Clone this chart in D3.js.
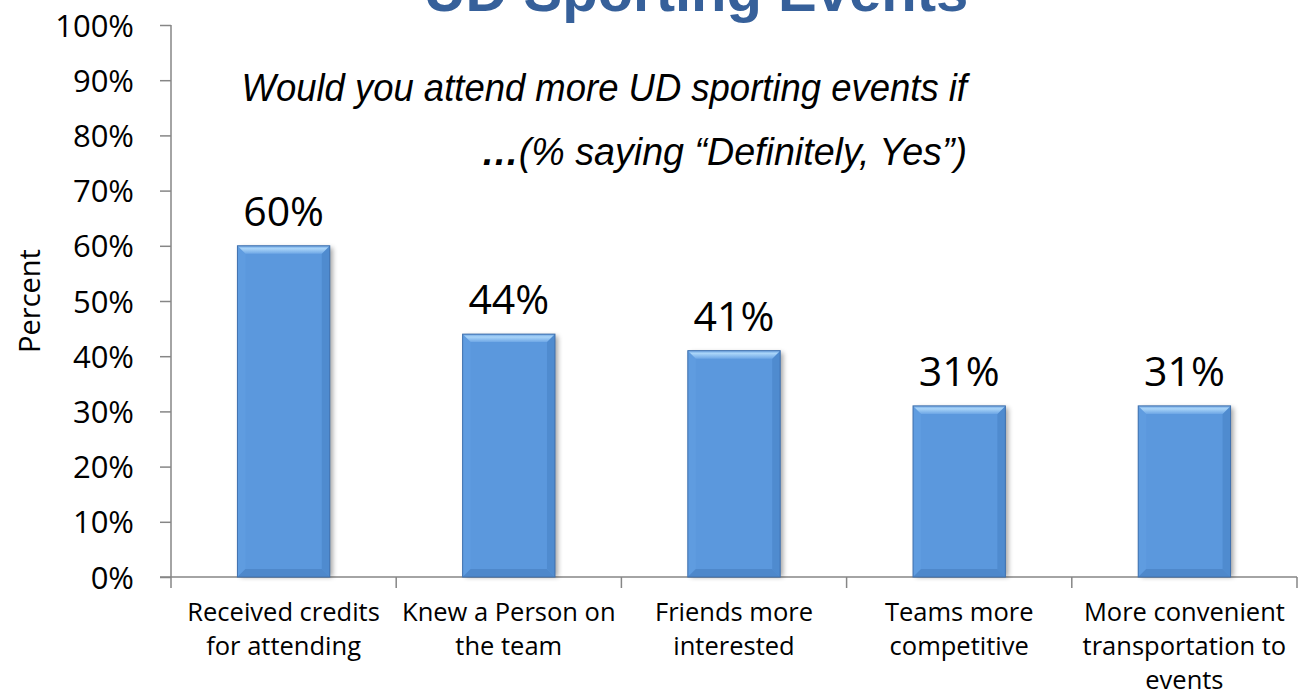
<!DOCTYPE html>
<html>
<head>
<meta charset="utf-8">
<script src="https://cdnjs.cloudflare.com/ajax/libs/d3/7.8.5/d3.min.js"></script>
<style>
  body { margin: 0; background: #fff; }
  svg { display: block; }
</style>
</head>
<body>
<svg id="chart" width="1303" height="696"></svg>
<script>
// Chart data
const categories = [
    ["Received credits", "for attending"],
    ["Knew a Person on", "the team"],
    ["Friends more", "interested"],
    ["Teams more", "competitive"],
    ["More convenient", "transportation to", "events"]
];
const values = [60, 44, 41, 31, 31];
const yTicks = [0, 10, 20, 30, 40, 50, 60, 70, 80, 90, 100];
const titleText = "UD Sporting Events";
const subtitleLine1 = "Would you attend more UD sporting events if";
const subtitleLine2 = "(% saying \u201CDefinitely, Yes\u201D)";
const yLabel = "Percent";

const svg = d3.select("#chart");
const plotLeft = 171, plotRight = 1297, plotTop = 25, plotBottom = 577;
const labelFont = "'Open Sans', 'Noto Sans', sans-serif";
const subFont = "'Liberation Sans', Arial, sans-serif";

// scales
let x = d3.scaleBand()
    .domain(d3.range(values.length))
    .range([plotLeft, plotRight])
    .paddingInner(0.59)
    .paddingOuter(0.295);

let y = d3.scaleLinear().domain([0, 100]).range([plotBottom, plotTop]);

// gradients and shadow
let defs = svg.append("defs");
let topGrad = defs.append("linearGradient").attr("id", "topBevel")
    .attr("x1", 0).attr("y1", 0).attr("x2", 0).attr("y2", 1);
topGrad.append("stop").attr("offset", "0%").attr("stop-color", "#6FA6E3");
topGrad.append("stop").attr("offset", "35%").attr("stop-color", "#A9D4F8");
topGrad.append("stop").attr("offset", "100%").attr("stop-color", "#6EA7E6");

let shadow = defs.append("filter").attr("id", "shadow")
    .attr("x", "-20%").attr("y", "-20%").attr("width", "140%").attr("height", "140%");
shadow.append("feGaussianBlur").attr("stdDeviation", 2.5);

// y axis
let yAxis = d3.axisLeft(y)
    .tickValues(yTicks)
    .tickSize(11)
    .tickPadding(26)
    .tickFormat(d => d + "%");

let yg = svg.append("g")
    .attr("transform", `translate(${plotLeft},0)`)
    .call(yAxis);
yg.selectAll("path, line").attr("stroke", "#868686").attr("stroke-width", 1.5);
yg.select(".domain").attr("d", `M0,${plotTop}V${plotBottom}`);
yg.selectAll("text")
    .attr("font-family", labelFont)
    .attr("font-size", 31)
    .attr("fill", "#000")
    .attr("dy", "0.36em");

// x axis line and ticks between the categories
let xg = svg.append("g");
xg.append("line")
    .attr("x1", plotLeft - 11).attr("x2", plotRight)
    .attr("y1", plotBottom).attr("y2", plotBottom)
    .attr("stroke", "#868686").attr("stroke-width", 1.5);

let catStep = (plotRight - plotLeft) / values.length;
xg.selectAll(".xtick")
    .data(d3.range(values.length + 1))
    .enter().append("line")
    .attr("class", "xtick")
    .attr("x1", i => plotLeft + i * catStep)
    .attr("x2", i => plotLeft + i * catStep)
    .attr("y1", plotBottom).attr("y2", plotBottom + 11)
    .attr("stroke", "#868686").attr("stroke-width", 1.5);

// category labels
let catCenter = i => x(i) + x.bandwidth() / 2;
let cats = svg.append("g").selectAll("text")
    .data(categories)
    .enter().append("text")
    .attr("text-anchor", "middle")
    .attr("font-family", labelFont)
    .attr("font-size", 25.5)
    .attr("fill", "#000");
cats.each(function(lines, i) {
    d3.select(this).selectAll("tspan")
        .data(lines)
        .enter().append("tspan")
        .attr("x", catCenter(i))
        .attr("y", (d, j) => 621 + j * 34)
        .text(d => d);
});

// bars with a bevel look
let bars = svg.append("g").selectAll("g")
    .data(values)
    .enter().append("g");

bars.each(function(v, i) {
    let g = d3.select(this);
    let bx = x(i), bw = x.bandwidth(), by = y(v), bh = y(0) - y(v);
    let b = 8;

    g.append("rect")
        .attr("x", bx + 3).attr("y", by + 2)
        .attr("width", bw).attr("height", bh - 2)
        .attr("fill", "#000").attr("opacity", 0.35)
        .attr("filter", "url(#shadow)");

    g.append("rect")
        .attr("x", bx).attr("y", by)
        .attr("width", bw).attr("height", bh)
        .attr("fill", "#5B98DD");

    // left edge
    g.append("polygon")
        .attr("points", [[bx, by], [bx + b, by + b], [bx + b, by + bh - b], [bx, by + bh]].join(" "))
        .attr("fill", "#5F9CE0");
    // right edge
    g.append("polygon")
        .attr("points", [[bx + bw, by], [bx + bw - b, by + b], [bx + bw - b, by + bh - b], [bx + bw, by + bh]].join(" "))
        .attr("fill", "#4F8BCF");
    // bottom edge
    g.append("polygon")
        .attr("points", [[bx, by + bh], [bx + b, by + bh - b], [bx + bw - b, by + bh - b], [bx + bw, by + bh]].join(" "))
        .attr("fill", "#4E88CB");
    // top edge
    g.append("polygon")
        .attr("points", [[bx, by], [bx + bw, by], [bx + bw - b, by + b], [bx + b, by + b]].join(" "))
        .attr("fill", "url(#topBevel)");

    g.append("rect")
        .attr("x", bx).attr("y", by)
        .attr("width", bw).attr("height", bh)
        .attr("fill", "none")
        .attr("stroke", "#3F70AD").attr("stroke-width", 1);
});

// value labels
svg.append("g").selectAll("text")
    .data(values)
    .enter().append("text")
    .attr("x", (d, i) => catCenter(i))
    .attr("y", d => y(d) - 20)
    .attr("text-anchor", "middle")
    .attr("font-family", labelFont)
    .attr("font-size", 41)
    .attr("fill", "#000")
    .text(d => d + "%");

// y axis title
svg.append("text")
    .attr("transform", "translate(40,301) rotate(-90)")
    .attr("text-anchor", "middle")
    .attr("font-family", labelFont)
    .attr("font-size", 29)
    .attr("fill", "#000")
    .text(yLabel);

// chart title (cut at the top edge like the reference)
svg.append("text")
    .attr("x", 696).attr("y", 11)
    .attr("text-anchor", "middle")
    .attr("font-family", "'Liberation Sans', Arial, sans-serif")
    .attr("font-weight", "bold")
    .attr("font-size", 58)
    .attr("fill", "#36609A")
    .text(titleText);

// subtitle lines, squeezed a little to look like a narrow italic face
svg.append("text")
    .attr("transform", "translate(967,101) scale(0.935,1)")
    .attr("text-anchor", "end")
    .attr("font-family", subFont)
    .attr("font-style", "italic")
    .attr("font-size", 39)
    .attr("fill", "#000")
    .text(subtitleLine1);

let sub2 = svg.append("text")
    .attr("transform", "translate(967,165) scale(0.965,1)")
    .attr("text-anchor", "end")
    .attr("font-family", subFont)
    .attr("font-style", "italic")
    .attr("font-size", 39)
    .attr("fill", "#000");
sub2.append("tspan").attr("font-weight", "bold").text("\u2026");
sub2.append("tspan").text(subtitleLine2);
</script>
</body>
</html>
